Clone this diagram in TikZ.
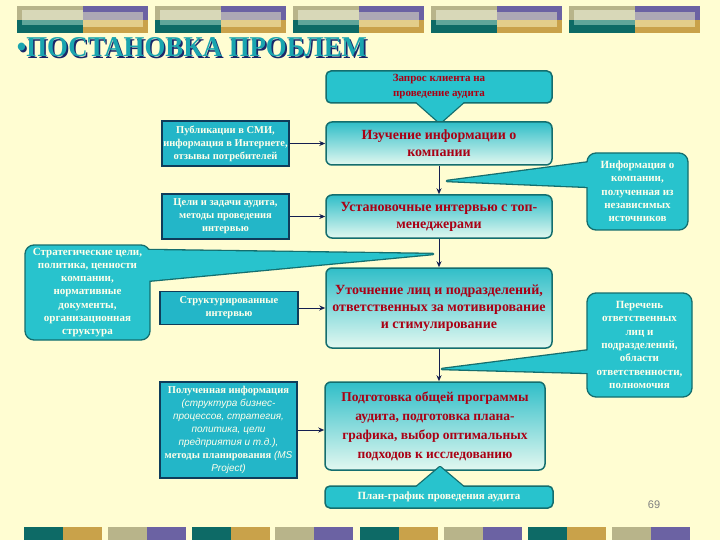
\documentclass[tikz,border=0pt]{standalone}
\usepackage{fontspec}
\setmainfont{Liberation Serif}
\setsansfont{Liberation Sans}
\usepackage{graphicx}
\usetikzlibrary{arrows.meta}
\definecolor{bgcream}{RGB}{255,253,210}
\definecolor{stripkhaki}{RGB}{184,180,138}
\definecolor{palekhaki}{RGB}{216,216,184}
\definecolor{stripteal}{RGB}{13,106,102}
\definecolor{lightteal}{RGB}{95,165,154}
\definecolor{strippurple}{RGB}{107,98,163}
\definecolor{palegray}{RGB}{173,168,181}
\definecolor{stripgold}{RGB}{201,162,74}
\definecolor{palegold}{RGB}{227,206,138}
\definecolor{boxteal}{RGB}{48,190,200}
\definecolor{boxpale}{RGB}{226,248,240}
\definecolor{mainedge}{RGB}{20,110,110}
\definecolor{calloutteal}{RGB}{40,195,205}
\definecolor{srcteal}{RGB}{35,182,200}
\definecolor{srcedge}{RGB}{15,60,90}
\definecolor{paletext}{RGB}{255,255,235}
\definecolor{boxred}{RGB}{170,0,20}
\definecolor{arrowblue}{RGB}{20,30,80}
\definecolor{titleteal}{RGB}{26,165,175}
\definecolor{titlenavy}{RGB}{26,40,105}
\newcommand{\titlestr}{•ПОСТАНОВКА ПРОБЛЕМ}
\newcommand{\itsans}{\normalfont\sffamily\itshape\fontsize{10}{13}\selectfont}
\tikzset{
    mainbox/.style={rectangle, rounded corners=6pt, draw=mainedge, line width=1.5pt,
        top color=boxteal, bottom color=boxpale, align=center, text=boxred,
        font=\bfseries\fontsize{14}{17}\selectfont, inner sep=1pt},
    capbox/.style={rectangle, rounded corners=5pt, draw=mainedge, line width=1.5pt,
        fill=calloutteal, align=center, inner sep=1pt,
        font=\bfseries\fontsize{11}{15}\selectfont},
    srcbox/.style={rectangle, draw=srcedge, line width=1.5pt, fill=srcteal,
        text=paletext, align=center, inner sep=1pt,
        font=\bfseries\fontsize{10.5}{13}\selectfont},
    callbox/.style={rectangle, rounded corners=9pt, draw=mainedge, line width=1.3pt,
        fill=calloutteal, text=paletext, align=center, inner sep=1pt,
        font=\bfseries\fontsize{11}{13.3}\selectfont},
    tailedge/.style={draw=mainedge, line width=2.6pt, line join=round},
    titletext/.style={inner sep=0pt, font=\bfseries\fontsize{24}{24}\selectfont},
    arr/.style={-{Stealth[length=6pt,width=5pt]}, draw=arrowblue, line width=1pt}
}
\begin{document}
\begin{tikzpicture}[x=1pt, y=-1pt]
        \fill[bgcream] (0,0) rectangle (720,540);
        \useasboundingbox (0,0) rectangle (720,540);
        \foreach \x in {17,155,293,431,569} {
                \fill[stripkhaki] (\x,6) rectangle (\x+66,20);
                \fill[stripteal] (\x,20) rectangle (\x+66,33);
                \fill[palekhaki] (\x+5,10) rectangle (\x+66,20);
                \fill[lightteal] (\x+5,20) rectangle (\x+66,25);
                \fill[strippurple] (\x+66,6) rectangle (\x+131,20);
                \fill[stripgold] (\x+66,20) rectangle (\x+131,33);
                \fill[palegray] (\x+66,12) rectangle (\x+126,20);
                \fill[palegold] (\x+66,20) rectangle (\x+126,27);
        }
        \foreach \x/\ca/\cb in {24/stripteal/stripgold, 108/stripkhaki/strippurple,
                192/stripteal/stripgold, 275/stripkhaki/strippurple, 360/stripteal/stripgold,
                444/stripkhaki/strippurple, 528/stripteal/stripgold, 612/stripkhaki/strippurple} {
                \fill[\ca] (\x,527) rectangle (\x+39,540);
                \fill[\cb] (\x+39,527) rectangle (\x+78,540);
        }
        \node[titletext, text=titlenavy] (shade) at (193.6,49.1) {\resizebox{350pt}{19pt}{\titlestr}};
        \node[titletext, text=titleteal] (title) at (192,47.5) {\resizebox{350pt}{19pt}{\titlestr}};

        \coordinate (zapros tip) at (440,123);
        \draw[tailedge] (414,100) -- (zapros tip) -- (466,100);
        \node[capbox, text=boxred, minimum width=226, minimum height=32] (zapros) at (439,87)
                {Запрос клиента на\\проведение аудита};
        \fill[calloutteal] (414,100) -- (zapros tip) -- (466,100) -- cycle;

        \node[mainbox, minimum width=226, minimum height=43] (izuch) at (439,143.5)
                {Изучение информации о\\компании};
        \node[mainbox, minimum width=226, minimum height=43] (ustan) at (439,216.5)
                {Установочные интервью с топ-\\менеджерами};
        \node[mainbox, minimum width=226, minimum height=80] (utoch) at (439,308)
                {Уточнение лиц и подразделений,\\ответственных за мотивирование\\и стимулирование};
        \node[mainbox, font=\bfseries\fontsize{13.5}{19}\selectfont, minimum width=220, minimum height=88] (podgot) at (435,426)
                {Подготовка общей программы\\аудита, подготовка плана-\\графика, выбор оптимальных\\подходов к исследованию};

        \coordinate (plan tip) at (440,467);
        \draw[tailedge] (414,489) -- (plan tip) -- (466,489);
        \node[capbox, text=paletext, minimum width=228, minimum height=22] (plan) at (439,497)
                {План-график проведения аудита};
        \fill[calloutteal] (414,489) -- (plan tip) -- (466,489) -- cycle;

        \node[srcbox, minimum width=127, minimum height=45] (pub) at (225.5,143.5)
                {Публикации в СМИ,\\информация в Интернете,\\отзывы потребителей};
        \node[srcbox, minimum width=127, minimum height=45] (celi) at (225.5,216.5)
                {Цели и задачи аудита,\\методы проведения\\интервью};
        \node[srcbox, minimum width=138, minimum height=33] (strukt) at (229,308)
                {Структурированные\\интервью};
        \node[srcbox, minimum width=137, minimum height=96] (poluch) at (228.5,430)
                {Полученная информация\\{\itsans (структура бизнес-}\\
                {\itsans процессов, стратегия,}\\
                {\itsans политика, цели}\\
                {\itsans предприятия и т.д.),}\\
                методы планирования {\itsans (MS}\\
                {\itsans Project)}};

        \coordinate (strat tip) at (433,254);
        \draw[tailedge] (146,250) -- (strat tip) -- (146,281);
        \node[callbox, minimum width=125, minimum height=95] (strat) at (87.5,292.5)
                {Стратегические цели,\\политика, ценности\\компании,\\нормативные\\документы,\\организационная\\структура};
        \fill[calloutteal] (146,250) -- (strat tip) -- (146,281) -- cycle;

        \coordinate (infoc tip) at (447,181);
        \draw[tailedge] (591,162) -- (infoc tip) -- (591,187);
        \node[callbox, minimum width=101, minimum height=77] (infoc) at (637.5,191.5)
                {Информация о\\компании,\\полученная из\\независимых\\источников};
        \fill[calloutteal] (591,162) -- (infoc tip) -- (591,187) -- cycle;

        \coordinate (perech tip) at (442,369);
        \draw[tailedge] (591,350) -- (perech tip) -- (591,373);
        \node[callbox, minimum width=105, minimum height=104] (perech) at (639.5,345)
                {Перечень\\ответственных\\лиц и\\подразделений,\\области\\ответственности,\\полномочия};
        \fill[calloutteal] (591,350) -- (perech tip) -- (591,373) -- cycle;

        \draw[arr] (pub.east) -- (pub.east -| izuch.west);
        \draw[arr] (celi.east) -- (celi.east -| ustan.west);
        \draw[arr] (strukt.east) -- (strukt.east -| utoch.west);
        \draw[arr] (poluch.east) -- (poluch.east -| podgot.west);
        \draw[arr] (izuch.south) -- (ustan.north);
        \draw[arr] (ustan.south) -- (utoch.north);
        \draw[arr] (utoch.south) -- (utoch.south |- podgot.north);

        \node[font=\sffamily\fontsize{11}{11}\selectfont, text=gray] (pagenum) at (654,505) {69};
\end{tikzpicture}
\end{document}
